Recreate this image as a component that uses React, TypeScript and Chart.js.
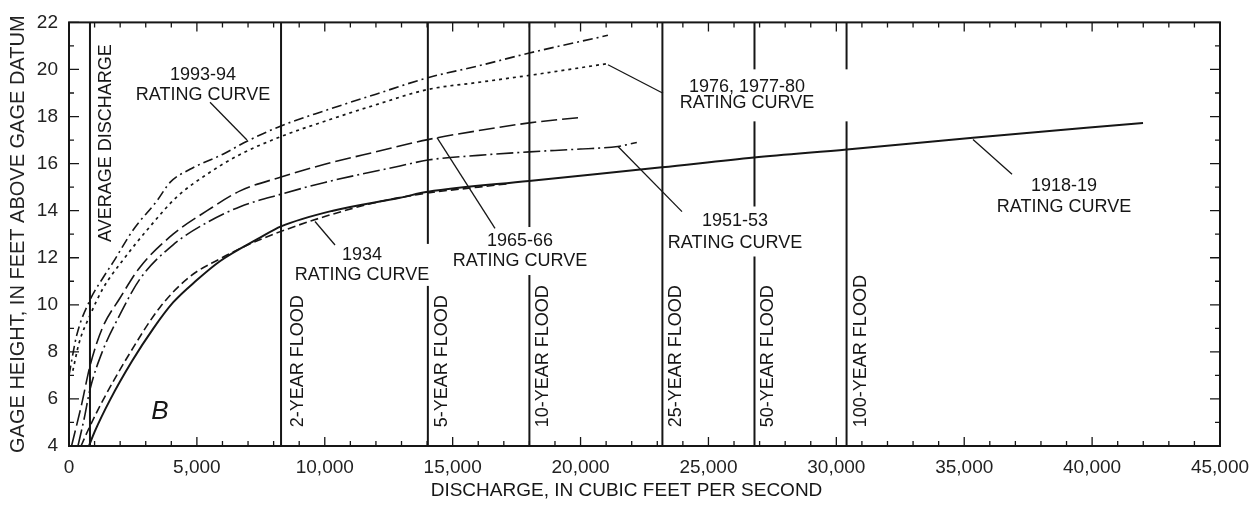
import React, { useEffect, useRef } from "react";
import { Chart, registerables } from "chart.js";

Chart.register(...registerables);

// ---------------- data ----------------
const X_MIN = 0;
const X_MAX = 45000;
const X_STEP = 5000;
const Y_MIN = 4;
const Y_MAX = 22;
const Y_STEP = 2;

const CFS_1918 = [780, 1000, 1600, 2460, 3300, 4070, 5000, 5900, 7470, 8290, 10320, 12940, 14030, 17980, 23180, 26780, 30410, 35340, 41990];
const FT_1918 = [4.0, 4.6, 5.95, 7.6, 9.0, 10.1, 11.05, 11.85, 12.85, 13.33, 14.0, 14.55, 14.8, 15.26, 15.84, 16.26, 16.6, 17.1, 17.73];

const CFS_1934 = [470, 800, 1330, 2270, 3560, 4730, 5900, 7000, 8290, 10000, 12000, 14030, 16000, 17200];
const FT_1934 = [4.0, 4.8, 5.95, 7.75, 9.9, 11.2, 11.95, 12.55, 13.12, 13.75, 14.35, 14.75, 15.0, 15.15];

const CFS_1951 = [350, 600, 820, 1300, 2000, 2776, 4070, 5400, 6690, 8290, 10000, 12940, 14030, 16000, 18000, 20000, 21460, 22200];
const FT_1951 = [4.0, 5.2, 6.4, 8.0, 9.6, 11.1, 12.55, 13.5, 14.17, 14.7, 15.2, 15.9, 16.15, 16.35, 16.5, 16.62, 16.73, 16.9];

const CFS_1965 = [100, 500, 820, 1300, 2000, 2776, 4070, 5400, 6690, 8290, 10000, 12000, 14030, 16000, 18000, 19900];
const FT_1965 = [4.0, 5.8, 7.4, 9.0, 10.3, 11.6, 13.0, 14.0, 14.84, 15.43, 15.97, 16.5, 17.02, 17.4, 17.73, 17.95];

const CFS_1976 = [150, 400, 820, 1330, 2110, 3170, 4220, 5400, 6690, 8290, 10000, 12000, 14030, 16000, 18000, 21070];
const FT_1976 = [7.2, 8.4, 9.55, 10.7, 11.9, 13.33, 14.59, 15.55, 16.39, 17.15, 17.8, 18.5, 19.15, 19.45, 19.75, 20.25];

const CFS_1993 = [0, 300, 820, 1330, 1720, 2500, 3440, 3950, 4730, 6020, 6960, 8290, 10000, 12000, 14030, 16000, 18000, 21070];
const FT_1993 = [7.0, 8.7, 10.2, 11.15, 11.8, 13.17, 14.42, 15.2, 15.76, 16.4, 16.95, 17.6, 18.25, 18.95, 19.65, 20.15, 20.7, 21.45];

const FLOOD_CFS = [820, 8290, 14030, 18000, 23200, 26800, 30400];
const FLOOD_NAMES = ["AVERAGE DISCHARGE", "2-YEAR FLOOD", "5-YEAR FLOOD", "10-YEAR FLOOD", "25-YEAR FLOOD", "50-YEAR FLOOD", "100-YEAR FLOOD"];

const X_TITLE = "DISCHARGE, IN CUBIC FEET PER SECOND";
const Y_TITLE = "GAGE HEIGHT, IN FEET ABOVE GAGE DATUM";
const PANEL_LETTER = "B";

// ---------------- styles ----------------
const FONT = "'Liberation Sans', Arial, Helvetica, sans-serif";
const INK = "#161616";

const pts = (xs: number[], ys: number[]) => xs.map((v, i) => ({ x: v, y: ys[i] }));

const curveDefs = [
  { label: "1918-19", xs: CFS_1918, ys: FT_1918, dash: [] as number[], width: 2 },
  { label: "1934", xs: CFS_1934, ys: FT_1934, dash: [8, 4], width: 1.6 },
  { label: "1951-53", xs: CFS_1951, ys: FT_1951, dash: [17, 4, 2, 4], width: 1.6 },
  { label: "1965-66", xs: CFS_1965, ys: FT_1965, dash: [16, 5], width: 1.6 },
  { label: "1976, 1977-80", xs: CFS_1976, ys: FT_1976, dash: [3, 4], width: 1.7 },
  { label: "1993-94", xs: CFS_1993, ys: FT_1993, dash: [10, 4, 2, 4], width: 1.6 },
];

// text labels anchored in data units: [cfs, ft] of the first line's centre
const textLabels = [
  { lines: ["1993-94", "RATING CURVE"], x: 5240, y: 19.78, gap: 20, pad: [2, 2, 2, 2] },
  { lines: ["1934", "RATING CURVE"], x: 11455, y: 12.12, gap: 20, pad: [2, 2, 4, 4] },
  { lines: ["1965-66", "RATING CURVE"], x: 17633, y: 12.71, gap: 20, pad: [3, 3, 7, 7] },
  { lines: ["1951-53", "RATING CURVE"], x: 26039, y: 13.54, gap: 22, pad: [0, 3, 8, 6] },
  { lines: ["1976, 1977-80", "RATING CURVE"], x: 26508, y: 19.24, gap: 16, pad: [6, 40, 11, 11] },
  { lines: ["1918-19", "RATING CURVE"], x: 38902, y: 15.05, gap: 21, pad: [2, 2, 2, 2] },
];

// leader lines in data units
const leaders = [
  [5513, 18.61, 6959, 17.0],
  [9618, 13.54, 10400, 12.54],
  [14388, 17.1, 16655, 13.25],
  [21464, 16.73, 23966, 13.96],
  [21073, 20.2, 23224, 18.99],
  [35344, 17.02, 36869, 15.55],
];

const fmt = (v: number) => v.toLocaleString("en-US");

const overlay = {
  id: "overlay",
  afterDatasetsDraw(chart: any) {
    const { ctx, chartArea: a, scales } = chart;
    const xs = scales.x;
    const ys = scales.y;
    ctx.save();

    // white boxes + text labels
    ctx.font = `18px ${FONT}`;
    ctx.textAlign = "center";
    ctx.textBaseline = "middle";
    for (const T of textLabels) {
      const cx = xs.getPixelForValue(T.x);
      const cy = ys.getPixelForValue(T.y);
      const w = Math.max(...T.lines.map((s) => ctx.measureText(s).width));
      const [pl, pr, pt, pb] = T.pad;
      const top = cy - 7 - pt;
      const h = (T.lines.length - 1) * T.gap + 14 + pt + pb;
      ctx.fillStyle = "#ffffff";
      ctx.fillRect(cx - w / 2 - pl, top, w + pl + pr, h);
    }
    ctx.strokeStyle = INK;
    ctx.lineWidth = 1.3;
    for (const L of leaders) {
      ctx.beginPath();
      ctx.moveTo(xs.getPixelForValue(L[0]), ys.getPixelForValue(L[1]));
      ctx.lineTo(xs.getPixelForValue(L[2]), ys.getPixelForValue(L[3]));
      ctx.stroke();
    }
    ctx.fillStyle = INK;
    for (const T of textLabels) {
      const cx = xs.getPixelForValue(T.x);
      const cy = ys.getPixelForValue(T.y);
      T.lines.forEach((s, i) => ctx.fillText(s, cx, cy + i * T.gap));
    }

    // vertical labels along flood lines
    FLOOD_NAMES.forEach((name, i) => {
      const px = xs.getPixelForValue(FLOOD_CFS[i]);
      ctx.save();
      if (i === 0) {
        ctx.translate(px + 16, ys.getPixelForValue(16.87));
        ctx.rotate(-Math.PI / 2);
        ctx.textAlign = "center";
      } else {
        ctx.translate(px + (i === 1 ? 17 : 14), ys.getPixelForValue(4.8));
        ctx.rotate(-Math.PI / 2);
        ctx.textAlign = "left";
      }
      ctx.textBaseline = "middle";
      ctx.fillText(name, 0, 0);
      ctx.restore();
    });

    // panel letter
    ctx.font = `italic 26px ${FONT}`;
    ctx.textAlign = "center";
    ctx.textBaseline = "middle";
    ctx.fillText(PANEL_LETTER, xs.getPixelForValue(3558), ys.getPixelForValue(5.47));

    // frame
    ctx.lineWidth = 2;
    ctx.strokeRect(a.left, a.top, a.right - a.left, a.bottom - a.top);

    // inward ticks on all four sides
    ctx.lineWidth = 1.3;
    ctx.beginPath();
    for (let v = X_MIN; v <= X_MAX; v += 1000) {
      const p = xs.getPixelForValue(v);
      const len = v % 5000 === 0 ? 9 : 5;
      ctx.moveTo(p, a.bottom);
      ctx.lineTo(p, a.bottom - len);
      ctx.moveTo(p, a.top);
      ctx.lineTo(p, a.top + len);
    }
    for (let v = Y_MIN; v <= Y_MAX; v += 1) {
      const p = ys.getPixelForValue(v);
      const len = v % 2 === 0 ? 10 : 5;
      ctx.moveTo(a.left, p);
      ctx.lineTo(a.left + len, p);
      ctx.moveTo(a.right, p);
      ctx.lineTo(a.right - len, p);
    }
    ctx.stroke();

    // x-axis title
    ctx.font = `19px ${FONT}`;
    ctx.textAlign = "center";
    ctx.textBaseline = "middle";
    ctx.fillText(X_TITLE, (a.left + a.right) / 2 - 18, a.bottom + 45);
    ctx.restore();
  },
};

export default function App() {
  const ref = useRef<HTMLCanvasElement | null>(null);

  useEffect(() => {
    document.body.style.margin = "0";
    const canvas = ref.current;
    if (!canvas) return;

    const floodSets = FLOOD_CFS.map((v, i) => ({
      label: FLOOD_NAMES[i],
      data: [
        { x: v, y: Y_MIN },
        { x: v, y: Y_MAX },
      ],
      borderColor: INK,
      borderWidth: 2,
      pointRadius: 0,
      tension: 0,
      fill: false,
    }));

    const curveSets = curveDefs.map((c) => ({
      label: c.label,
      data: pts(c.xs, c.ys),
      borderColor: INK,
      borderWidth: c.width,
      borderDash: c.dash,
      pointRadius: 0,
      cubicInterpolationMode: "monotone" as const,
      fill: false,
    }));

    const chart = new Chart(canvas, {
      type: "line",
      data: { datasets: [...curveSets, ...floodSets] as any },
      options: {
        responsive: false,
        animation: false,
        events: [],
        layout: { padding: { top: 16, right: 40, left: 0, bottom: 0 } },
        plugins: {
          legend: { display: false },
          tooltip: { enabled: false },
          title: { display: false },
        },
        scales: {
          x: {
            type: "linear",
            min: X_MIN,
            max: X_MAX,
            grid: { display: false, drawTicks: false },
            border: { display: false },
            ticks: {
              stepSize: X_STEP,
              padding: 10,
              color: "#222",
              font: { family: FONT, size: 19 },
              maxRotation: 0,
              autoSkip: false,
              callback: (v: any) => fmt(Number(v)),
            },
            afterFit: (s: any) => {
              s.height = 60;
            },
          },
          y: {
            type: "linear",
            min: Y_MIN,
            max: Y_MAX,
            grid: { display: false, drawTicks: false },
            border: { display: false },
            ticks: {
              stepSize: Y_STEP,
              padding: 11,
              color: "#222",
              font: { family: FONT, size: 19 },
            },
            title: {
              display: true,
              text: Y_TITLE,
              color: "#222",
              font: { family: FONT, size: 20 },
              padding: { top: 6, bottom: 0 },
            },
            afterFit: (s: any) => {
              s.width = 69;
            },
          },
        },
      },
      plugins: [overlay],
    });

    return () => chart.destroy();
  }, []);

  return (
    <div style={{ width: 1260, height: 506, background: "#fff" }}>
      <canvas ref={ref} width={1260} height={506} style={{ display: "block" }} />
    </div>
  );
}
